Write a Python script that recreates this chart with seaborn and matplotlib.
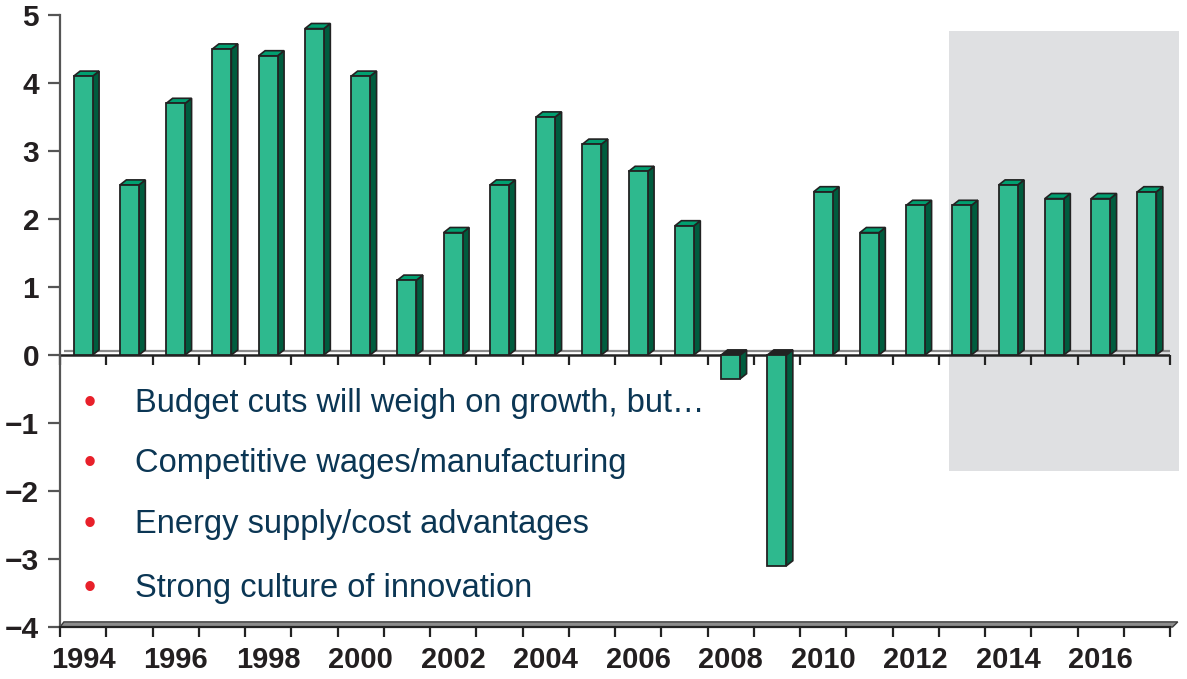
import matplotlib
matplotlib.use("Agg")
import matplotlib.pyplot as plt
from matplotlib.patches import Polygon, Rectangle
import pandas as pd
import seaborn as sns

# Real GDP growth, % per year
years = [str(y) for y in range(1994, 2018)]
growth = [4.1, 2.5, 3.7, 4.5, 4.4, 4.8, 4.1, 1.1, 1.8, 2.5, 3.5, 3.1,
          2.7, 1.9, -0.35, -3.1, 2.4, 1.8, 2.2, 2.2, 2.5, 2.3, 2.3, 2.4]
year_labels = [y if int(y) % 2 == 0 else "" for y in years]
y_ticks = [-4, -3, -2, -1, 0, 1, 2, 3, 4, 5]
bullets = ["Budget cuts will weigh on growth, but…",
           "Competitive wages/manufacturing",
           "Energy supply/cost advantages",
           "Strong culture of innovation"]
forecast_from = "2013"

FRONT = "#2eb98e"
SIDE = "#005c3e"
TOP = "#00a070"
EDGE = "#222222"
TEXT = "#0b3654"
BULLET = "#e8202a"
SHADE = "#dfe0e2"
TICK_FONT = ["Liberation Sans", "DejaVu Sans"]

sns.set_style("white")
plt.rcParams["font.family"] = ["Liberation Sans", "DejaVu Sans"]

fig = plt.figure(figsize=(11.87, 6.79), dpi=100)
ax = fig.add_axes([60 / 1187, 1 - 627 / 679, 1110 / 1187, 612 / 679])

df = pd.DataFrame({"year": years, "growth": growth})
sns.barplot(data=df, x="year", y="growth", color=FRONT, saturation=1,
            width=0.41, edgecolor=EDGE, linewidth=1.3, ax=ax, zorder=4)
bars = list(ax.patches)[:len(growth)]

ax.set_xlim(-0.5, len(years) - 0.5)
ax.set_ylim(-4, 5)

# depth of the pseudo-3D extrusion (data units)
dx, dy = 0.14, 0.075

# forecast period shading
f0 = years.index(forecast_from) - 0.28
ax.add_patch(Rectangle((f0, -1.71), len(years) - 0.31 - f0, 4.76 + 1.71,
                       facecolor=SHADE, edgecolor="none", zorder=0,
                       clip_on=False))

# side and top faces of each bar
for p, v in zip(bars, growth):
    x0 = p.get_x()
    x1 = x0 + p.get_width()
    top = max(v, 0)
    base = min(v, 0)
    side = Polygon([(x1, base), (x1, top), (x1 + dx, top + dy),
                    (x1 + dx, base + dy)], closed=True, facecolor=SIDE,
                   edgecolor=EDGE, linewidth=1.2, zorder=3.9)
    cap = Polygon([(x0, top), (x1, top), (x1 + dx, top + dy),
                   (x0 + dx, top + dy)], closed=True,
                  facecolor=TOP if v >= 0 else EDGE,
                  edgecolor=EDGE, linewidth=1.2, zorder=3.9)
    ax.add_patch(side)
    ax.add_patch(cap)

# zero plane: back edge and front edge with ticks
n = len(years)
ax.plot([-0.5 + dx * 0.6, n - 0.5], [dy * 0.8, dy * 0.8], color="#8a8a8a",
        lw=1.6, zorder=1, solid_capstyle="butt")
ax.axhline(0, color=EDGE, lw=1.8, zorder=2)
boundaries = [i - 0.5 for i in range(n + 1)]
zero_axis = ax.secondary_xaxis(4 / 9)
zero_axis.set_xticks(boundaries)
zero_axis.tick_params(axis="x", bottom=True, top=False, labelbottom=False,
                      labeltop=False, direction="out", length=7, width=1.6,
                      color=EDGE)
zero_axis.spines["bottom"].set_visible(False)
zero_axis.spines["top"].set_visible(False)

# floor slab at the bottom
ax.add_patch(Polygon([(-0.5, -4), (n - 0.5 + dx * 0.4, -4),
                      (n - 0.5 + dx * 1.2, -4 + dy), (-0.5 + dx * 0.6, -4 + dy)],
                     closed=True, facecolor="#8c8c8c", edgecolor="#3a3a3a",
                     linewidth=1.0, zorder=2, clip_on=False))

# axes styling
for s in ["top", "right"]:
    ax.spines[s].set_visible(False)
ax.spines["left"].set_color("#555555")
ax.spines["left"].set_linewidth(1.6)
ax.spines["bottom"].set_color(EDGE)
ax.spines["bottom"].set_linewidth(1.6)

ax.set_xticks(boundaries)
ax.set_xticklabels([])
ax.set_xticks(range(n), minor=True)
ax.set_xticklabels(year_labels, minor=True, fontsize=21, fontweight="bold",
                   color="#231f20", family=TICK_FONT)
ax.tick_params(axis="x", which="major", direction="out", length=7,
               width=1.6, color=EDGE, bottom=True)
ax.tick_params(axis="x", which="minor", length=0, pad=14, bottom=True)

ax.set_yticks(y_ticks)
ax.set_yticklabels([str(t).replace("-", "\u2212") for t in y_ticks],
                   fontsize=21.5, fontweight="bold", color="#231f20",
                   family=TICK_FONT)
ax.tick_params(axis="y", direction="out", length=9, width=1.6,
               color="#555555", left=True, pad=6)
ax.set_xlabel("")
ax.set_ylabel("")
ax.grid(False)

# bullet list
line_y = [-0.72, -1.6, -2.49, -3.44]
for t, yv in zip(bullets, line_y):
    ax.text(30 / 1110, yv, "\u2022", transform=ax.get_yaxis_transform(),
            color=BULLET, fontsize=25, va="center", ha="center", zorder=6)
    ax.text(75 / 1110, yv, t, transform=ax.get_yaxis_transform(),
            color=TEXT, fontsize=23.5, va="center", ha="left", zorder=6)

fig.savefig("out.png", dpi=100, facecolor="white")
